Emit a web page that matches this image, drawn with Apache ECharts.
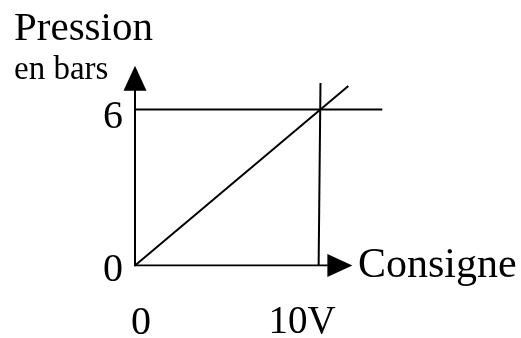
<!DOCTYPE html>
<html>
<head>
<meta charset="utf-8">
<script src="https://cdn.jsdelivr.net/npm/echarts@6/dist/echarts.min.js"></script>
<style>
  html, body { margin: 0; padding: 0; background: #fff; }
  #chart { width: 521px; height: 338px; }
</style>
</head>
<body>
<div id="chart"></div>
<script>
// values (x in volts, y in bars)
var xTickValues = [0, 10];
var xTickLabels = ["0", "10V"];
var yTickValues = [0, 6];
var yTickLabels = ["0", "6"];
var rampLine = [[0, 0], [11.56, 6.9]];
var sixBarLine = [[0, 6], [13.4, 6]];
var tenVoltLine = [[9.95, 0], [10.05, 7.02]];
var xArrowEnd = 11.1;

var serif = "'Liberation Serif', 'Times New Roman', serif";

var chartDom = document.getElementById("chart");
var myChart = echarts.init(chartDom);
var option;

function plainLine(data) {
  return {
    type: "line",
    data: data,
    symbol: "none",
    clip: false,
    silent: true,
    lineStyle: { color: "#000", width: 2 },
  };
}

// x axis drawn as a series so the grid can reach the end of the 6 bar line
var xAxisLine = {
  type: "line",
  silent: true,
  lineStyle: { color: "#000", width: 2 },
  itemStyle: { color: "#000" },
  data: [
    { value: [0, 0], symbol: "none" },
    { value: [xArrowEnd, 0], symbol: "triangle", symbolSize: [23, 25], symbolRotate: -90 },
  ],
};

option = {
  animation: false,
  title: {
    text: "Pression",
    subtext: "en bars",
    left: 9,
    top: 4,
    itemGap: 4,
    textStyle: { fontFamily: serif, fontSize: 41, fontWeight: "normal", color: "#000" },
    subtextStyle: { fontFamily: serif, fontSize: 33, color: "#000" },
  },
  grid: { left: 135, right: 135, top: 78.3, bottom: 72.5, outerBoundsMode: "none" },
  xAxis: {
    type: "value",
    min: 0,
    max: 13.6,
    name: "Consigne",
    nameLocation: "end",
    nameGap: -28,
    nameTextStyle: { fontFamily: serif, fontSize: 42, color: "#000", align: "left", padding: [6, 0, 0, 0] },
    splitLine: { show: false },
    axisTick: { show: false },
    axisLine: { show: false },
    axisLabel: {
      customValues: xTickValues,
      margin: 38,
      formatter: function (v) {
        var i = xTickValues.indexOf(v);
        return i === 0 ? "{a|" + xTickLabels[i] + "}" : "{b|" + xTickLabels[i] + "}";
      },
      rich: {
        a: { fontFamily: serif, fontSize: 40, color: "#000", padding: [0, 0, 0, 12] },
        b: { fontFamily: serif, fontSize: 39, color: "#000", padding: [0, 35, 0, 0] },
      },
    },
  },
  yAxis: {
    type: "value",
    min: 0,
    max: 7.2,
    splitLine: { show: false },
    axisTick: { show: false },
    axisLine: {
      lineStyle: { color: "#000", width: 2 },
      symbol: ["none", "triangle"],
      symbolSize: [23, 25],
    },
    axisLabel: {
      customValues: yTickValues,
      margin: 12,
      formatter: function (v) {
        var i = yTickValues.indexOf(v);
        return i === 0 ? "{a|" + yTickLabels[i] + "}" : "{b|" + yTickLabels[i] + "}";
      },
      rich: {
        a: { fontFamily: serif, fontSize: 40, color: "#000", padding: [9, 0, 0, 0] },
        b: { fontFamily: serif, fontSize: 40, color: "#000", padding: [16, 0, 0, 0] },
      },
    },
  },
  series: [xAxisLine, plainLine(rampLine), plainLine(sixBarLine), plainLine(tenVoltLine)],
};

option && myChart.setOption(option);
</script>
</body>
</html>
